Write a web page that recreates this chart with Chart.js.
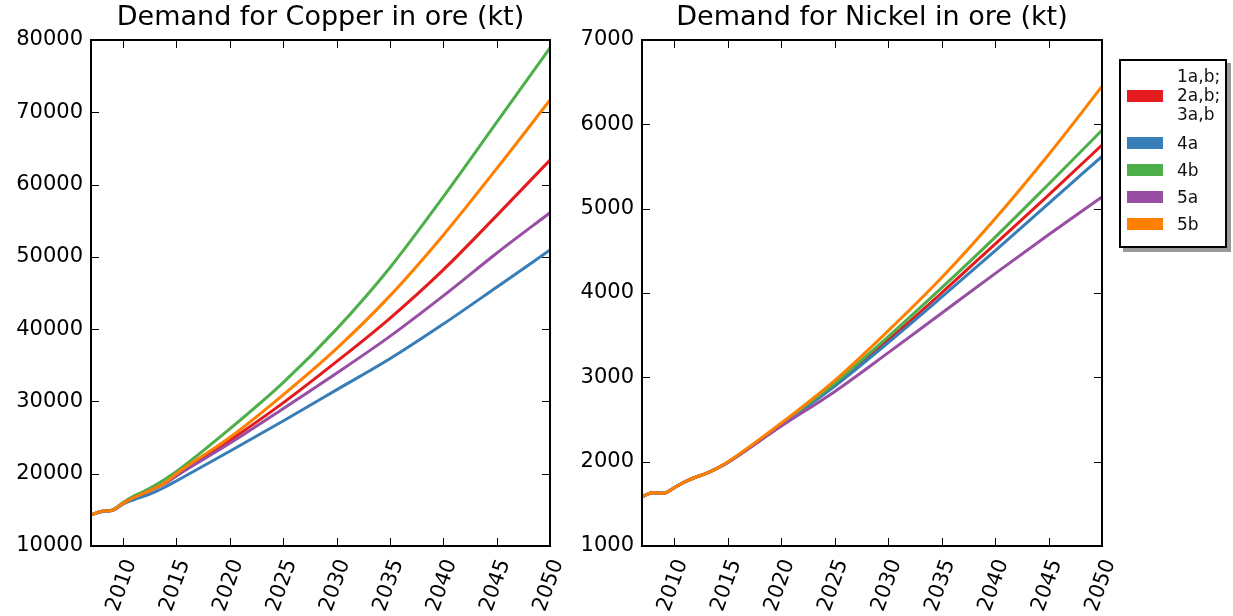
<!DOCTYPE html>
<html>
<head>
<meta charset="utf-8">
<script src="https://cdn.jsdelivr.net/npm/chart.js@4.4.1/dist/chart.umd.min.js"></script>
<style>
  body { margin: 0; background: #fff; width: 1233px; height: 616px; overflow: hidden; position: relative; font-family: 'DejaVu Sans', sans-serif; }
  .box { position: absolute; top: 0; height: 616px; }
  #legend { position: absolute; left: 1119px; top: 59px; width: 104px; height: 179px; border: 2px solid #000; background: #fff; box-shadow: 4px 4px 0 #999; padding-top: 6px; box-sizing: content-box; }
  .row { display: flex; align-items: center; height: 27px; font-size: 17px; color: #111; }
  .row.multi { height: 57px; line-height: 19px; margin-bottom: 5px; }
  .sw { width: 36px; height: 12px; margin-left: 6px; margin-right: 14px; flex: none; }
  .txt { white-space: pre-line; }
</style>
</head>
<body>
<div class="box" style="left:0;width:600px"><canvas id="copper"></canvas></div>
<div class="box" style="left:560px;width:673px"><canvas id="nickel"></canvas></div>
<div id="legend"></div>
<script>
// years with a value (annual at the start, then every 5 years)
const years = [2007, 2008, 2009, 2010, 2011, 2012, 2013, 2014, 2015, 2020, 2025, 2030, 2035, 2040, 2045, 2050];
const xTicks = [2010, 2015, 2020, 2025, 2030, 2035, 2040, 2045, 2050];

const seriesLabels = ['1a,b;\n2a,b;\n3a,b', '4a', '4b', '5a', '5b'];
const seriesColors = ['#e41a1c', '#377eb8', '#4daf4a', '#984ea3', '#ff7f00'];

// copper demand in ore (kt)
const copperBase = [14300, 14800, 14950, 15900, 16700, 17300, 18000, 18800, 19800, 24600, 29800, 35500, 41500, 48200, 55700, 63400];
const copper4a   = [14300, 14750, 14900, 15800, 16400, 16900, 17500, 18200, 19000, 23100, 27300, 31600, 35900, 40700, 45800, 50950];
const copper4b   = [14300, 14800, 15000, 16000, 16900, 17600, 18400, 19300, 20300, 26200, 32600, 40000, 48500, 58300, 68600, 78900];
const copper5a   = [14300, 14800, 14950, 15900, 16700, 17300, 18000, 18700, 19700, 24200, 29000, 33900, 39000, 44600, 50500, 56100];
const copper5b   = [14300, 14800, 14950, 15900, 16700, 17300, 18000, 18800, 20000, 25000, 30900, 37300, 44600, 53000, 62200, 71700];
const copperTicks = [10000, 20000, 30000, 40000, 50000, 60000, 70000, 80000];

// nickel demand in ore (kt)
const nickelBase = [1585, 1630, 1625, 1690, 1760, 1815, 1860, 1920, 1990, 2440, 2910, 3440, 4000, 4580, 5160, 5755];
const nickel4a   = [1585, 1630, 1625, 1690, 1760, 1815, 1860, 1920, 1990, 2435, 2895, 3410, 3950, 4500, 5060, 5620];
const nickel4b   = [1585, 1630, 1625, 1690, 1760, 1815, 1860, 1920, 1990, 2445, 2930, 3480, 4060, 4660, 5290, 5930];
const nickel5a   = [1585, 1630, 1625, 1690, 1760, 1815, 1860, 1920, 1990, 2420, 2830, 3290, 3760, 4230, 4690, 5140];
const nickel5b   = [1585, 1630, 1625, 1690, 1760, 1815, 1860, 1920, 1995, 2455, 2960, 3550, 4180, 4880, 5640, 6450];
const nickelTicks = [1000, 2000, 3000, 4000, 5000, 6000, 7000];

const FONT = "'DejaVu Sans', sans-serif";
Chart.defaults.color = '#000';
Chart.defaults.font.family = FONT;

// matplotlib classic look: black frame, ticks pointing inwards on all four sides
const frameTicks = {
  id: 'frameTicks',
  afterDatasetsDraw(chart) {
    const { ctx, chartArea: a, scales: { x, y } } = chart;
    ctx.save();
    ctx.strokeStyle = '#000';
    ctx.lineWidth = 1;
    ctx.beginPath();
    x.ticks.forEach(t => {
      const px = Math.round(x.getPixelForValue(t.value)) + 0.5;
      ctx.moveTo(px, a.bottom); ctx.lineTo(px, a.bottom - 8);
      ctx.moveTo(px, a.top); ctx.lineTo(px, a.top + 8);
    });
    y.ticks.forEach(t => {
      const py = Math.round(y.getPixelForValue(t.value)) + 0.5;
      ctx.moveTo(a.left, py); ctx.lineTo(a.left + 8, py);
      ctx.moveTo(a.right, py); ctx.lineTo(a.right - 8, py);
    });
    ctx.stroke();
    ctx.lineWidth = 2;
    ctx.strokeRect(a.left, a.top, a.right - a.left, a.bottom - a.top);
    ctx.restore();
  }
};

function makeChart(id, title, series, yTicks, yWidth, padRight) {
  const order = [4, 3, 2, 1, 0];   // orange drawn last, like the original
  const datasets = series.map((vals, i) => ({
    label: seriesLabels[i],
    data: vals.map((v, j) => ({ x: years[j], y: v })),
    borderColor: seriesColors[i],
    borderWidth: 3,
    pointRadius: 0,
    cubicInterpolationMode: 'monotone',
    fill: false,
    order: order[i]
  }));

  return new Chart(document.getElementById(id), {
    type: 'line',
    data: { datasets },
    plugins: [frameTicks],
    options: {
      responsive: true,
      maintainAspectRatio: false,
      animation: false,
      layout: { padding: { left: 0, right: padRight, top: 0, bottom: 0 } },
      plugins: {
        legend: { display: false },
        tooltip: { enabled: false },
        title: {
          display: true, text: title, fullSize: false,
          color: '#000',
          font: { size: 27, weight: 'normal', family: FONT, lineHeight: 1.2 },
          padding: { top: 2, bottom: 5.6 }
        }
      },
      scales: {
        x: {
          type: 'linear', min: 2007, max: 2050,
          grid: { display: false, drawTicks: false },
          border: { display: false },
          afterBuildTicks: s => { s.ticks = xTicks.map(v => ({ value: v })); },
          afterFit: s => { s.height = 70; },
          ticks: {
            autoSkip: false, minRotation: 70, maxRotation: 70,
            padding: 10, labelOffset: 8,
            font: { size: 21, family: FONT },
            callback: v => String(v)
          }
        },
        y: {
          type: 'linear', min: yTicks[0], max: yTicks[yTicks.length - 1],
          grid: { display: false, drawTicks: false },
          border: { display: false },
          afterBuildTicks: s => { s.ticks = yTicks.map(v => ({ value: v })); },
          afterFit: s => { s.width = yWidth; },
          ticks: { padding: 8, font: { size: 21, family: FONT }, callback: v => String(v) }
        }
      }
    }
  });
}

makeChart('copper', 'Demand for Copper in ore (kt)',
  [copperBase, copper4a, copper4b, copper5a, copper5b], copperTicks, 91, 50);
makeChart('nickel', 'Demand for Nickel in ore (kt)',
  [nickelBase, nickel4a, nickel4b, nickel5a, nickel5b], nickelTicks, 82, 131);

// legend box with shadow, right of the nickel plot
const legend = document.getElementById('legend');
seriesLabels.forEach((lab, i) => {
  const row = document.createElement('div');
  row.className = 'row' + (lab.includes('\n') ? ' multi' : '');
  row.innerHTML = '<div class="sw" style="background:' + seriesColors[i] + '"></div><div class="txt"></div>';
  row.querySelector('.txt').textContent = lab;
  legend.appendChild(row);
});
</script>
</body>
</html>
